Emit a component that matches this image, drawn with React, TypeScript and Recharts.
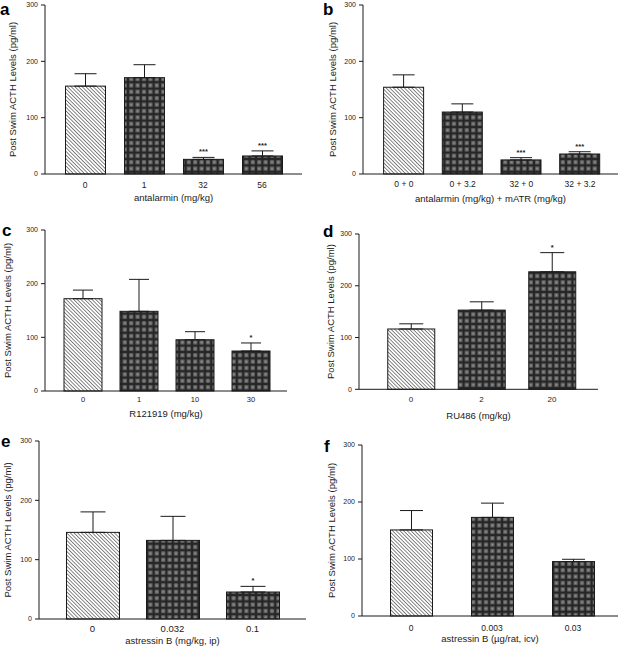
import React from "react";
import { BarChart, Bar, XAxis, YAxis, ErrorBar } from "recharts";

// panel a
const catsA = ["0", "1", "32", "56"];
const meanA = [156, 171, 26, 32];
const errA = [22, 23, 3.5, 9];
const starsA = ["", "", "***", "***"];

// panel b
const catsB = ["0 + 0", "0 + 3.2", "32 + 0", "32 + 3.2"];
const meanB = [154, 110, 25, 35.5];
const errB = [22, 14.5, 4, 4];
const starsB = ["", "", "***", "***"];

// panel c
const catsC = ["0", "1", "10", "30"];
const meanC = [172, 148.5, 95.5, 74.5];
const errC = [16, 59.5, 15, 15];
const starsC = ["", "", "", "*"];

// panel d
const catsD = ["0", "2", "20"];
const meanD = [116.5, 153, 227];
const errD = [10, 16, 37];
const starsD = ["", "", "*"];

// panel e
const catsE = ["0", "0.032", "0.1"];
const meanE = [146, 132.5, 45.5];
const errE = [34.5, 40.5, 9.5];
const starsE = ["", "", "*"];

// panel f
const catsF = ["0", "0.003", "0.03"];
const meanF = [151, 173, 95.5];
const errF = [34, 25, 4];
const starsF = ["", "", ""];

const yTicks = [0, 100, 200, 300];
const yLabel = "Post Swim ACTH Levels (pg/ml)";

const FONT = "'Liberation Sans', Arial, sans-serif";
const INK = "#1a1a1a";

const buildRows = (cats: string[], mean: number[], err: number[], stars: string[]) =>
  cats.map((c, i) => ({ cat: c, mean: mean[i], err: [0, err[i]], e: err[i], star: stars[i], idx: i }));

// layout in page pixels
const panels = [
  { letter: "a", lx: 0, ly: 15, rows: buildRows(catsA, meanA, errA, starsA), xLabel: "antalarmin (mg/kg)",
    colX: 0, pl: 45, pr: 302, pt: 5, pb: 174, padL: 10.5, padR: 10.5, barSize: 40, cap: 11, tickFs: 8.5, tickBase: 187.7, xLabBase: 201, yLabX: 12 },
  { letter: "b", lx: 323, ly: 15, rows: buildRows(catsB, meanB, errB, starsB), xLabel: "antalarmin (mg/kg) + mATR (mg/kg)",
    colX: 310, pl: 363, pr: 618, pt: 5, pb: 174, padL: 11.6, padR: 8.6, barSize: 40, cap: 11, tickFs: 8.5, tickBase: 187.3, xLabBase: 202, yLabX: 332 },
  { letter: "c", lx: 2, ly: 236, rows: buildRows(catsC, meanC, errC, starsC), xLabel: "R121919 (mg/kg)",
    colX: 0, pl: 45, pr: 287, pt: 230, pb: 391, padL: 10, padR: 8, barSize: 38, cap: 10, tickFs: 7.5, tickBase: 402.3, xLabBase: 416.7, yLabX: 7.5 },
  { letter: "d", lx: 323, ly: 237, rows: buildRows(catsD, meanD, errD, starsD), xLabel: "RU486 (mg/kg)",
    colX: 310, pl: 359, pr: 598, pt: 234, pb: 389.3, padL: 16.75, padR: 10.75, barSize: 47, cap: 12, tickFs: 8, tickBase: 401.7, xLabBase: 419, yLabX: 331 },
  { letter: "e", lx: 1, ly: 447, rows: buildRows(catsE, meanE, errE, starsE), xLabel: "astressin B (mg/kg, ip)",
    colX: 0, pl: 39, pr: 306, pt: 441, pb: 619, padL: 13.5, padR: 13.5, barSize: 53, cap: 12.5, tickFs: 9.5, tickBase: 632.3, xLabBase: 644, yLabX: 7 },
  { letter: "f", lx: 324, ly: 452, rows: buildRows(catsF, meanF, errF, starsF), xLabel: "astressin B (\u00b5g/rat, icv)",
    colX: 310, pl: 362, pr: 618, pt: 445, pb: 616, padL: 8.5, padR: 4.5, barSize: 42, cap: 11.5, tickFs: 8.5, tickBase: 630.7, xLabBase: 642, yLabX: 331 },
];

const TOP_M = 6;
const XAXIS_H = 40;

const BarShape = (props: any) => {
  const { x, y, width, height, payload } = props;
  const fill = payload.idx === 0 ? "url(#hatch)" : "url(#grid)";
  const k = payload.mean > 0 ? height / payload.mean : 0;
  const errTop = y - payload.e * k;
  return (
    <g>
      <rect x={x} y={y} width={width} height={height} fill={fill} stroke={INK} strokeWidth={1} />
      {payload.star ? (
        <text x={x + width / 2} y={errTop - 3} textAnchor="middle" fontSize={7.5} fontWeight="bold" fill={INK}>
          {payload.star}
        </text>
      ) : null}
    </g>
  );
};

function Panel({ p }: { p: (typeof panels)[number] }) {
  const boxTop = p.pt - TOP_M;
  const width = p.pr - p.colX + 3;
  const height = p.pb - boxTop + XAXIS_H;
  const yAxisW = p.pl - p.colX;
  const midY = (p.pt + p.pb) / 2 - boxTop;
  const tickMargin = p.tickBase - p.pb - 0.71 * p.tickFs;
  return (
    <div style={{ position: "absolute", left: p.colX, top: boxTop }}>
      <BarChart width={width} height={height} data={p.rows} margin={{ top: TOP_M, right: 3, left: 0, bottom: 0 }}>
        <XAxis
          dataKey="cat"
          height={XAXIS_H}
          padding={{ left: p.padL, right: p.padR }}
          tickLine={false}
          tickSize={0}
          tickMargin={tickMargin}
          axisLine={{ stroke: INK, strokeWidth: 1 }}
          tick={{ fontSize: p.tickFs, fill: INK }}
          interval={0}
          label={{
            value: p.xLabel,
            content: (lp: any) => {
              const vb = lp.viewBox || {};
              const cx = vb.x != null ? vb.x + vb.width / 2 : (p.pl + p.pr) / 2 - p.colX;
              return (
                <text x={cx} y={p.xLabBase - boxTop} textAnchor="middle" fontSize={9.5} fill={INK}>
                  {p.xLabel}
                </text>
              );
            },
          }}
        />
        <YAxis
          width={yAxisW}
          domain={[0, 300]}
          ticks={yTicks}
          tickSize={4}
          tickMargin={3}
          tickLine={{ stroke: INK }}
          axisLine={{ stroke: INK, strokeWidth: 1 }}
          tick={{ fontSize: 7, fill: INK }}
          label={{
            value: yLabel,
            content: () => {
              const lx = p.yLabX - p.colX;
              return (
                <text
                  x={lx}
                  y={midY}
                  textAnchor="middle"
                  dominantBaseline="central"
                  fontSize={9.5}
                  fill={INK}
                  transform={`rotate(-90, ${lx}, ${midY})`}
                >
                  {yLabel}
                </text>
              );
            },
          }}
        />
        <Bar dataKey="mean" barSize={p.barSize} shape={BarShape} isAnimationActive={false}>
          <ErrorBar dataKey="err" width={p.cap} stroke={INK} strokeWidth={1} direction="y" isAnimationActive={false} />
        </Bar>
      </BarChart>
    </div>
  );
}

export default function App() {
  return (
    <div
      style={{
        position: "absolute",
        left: 0,
        top: 0,
        width: 621,
        height: 648,
        overflow: "hidden",
        background: "#fff",
        fontFamily: FONT,
      }}
    >
      <svg width={0} height={0} style={{ position: "absolute" }}>
        <defs>
          <pattern id="hatch" patternUnits="userSpaceOnUse" width={2.6} height={2.6} patternTransform="rotate(-45)">
            <rect width={2.6} height={2.6} fill="#fff" />
            <line x1={1.3} y1={0} x2={1.3} y2={2.6} stroke="#666" strokeWidth={0.8} />
          </pattern>
          <pattern id="grid" patternUnits="userSpaceOnUse" width={6.4} height={6.4}>
            <rect width={6.4} height={6.4} fill="#262626" />
            <rect x={1.2} y={1.2} width={4} height={4} fill="#707070" />
            <rect x={2.6} y={2.6} width={1.2} height={1.2} fill="#9a9a9a" />
          </pattern>
        </defs>
      </svg>
      {panels.map((p) => (
        <Panel key={p.letter} p={p} />
      ))}
      <svg width={621} height={648} style={{ position: "absolute", left: 0, top: 0, pointerEvents: "none" }}>
        {panels.map((p) => (
          <text key={p.letter} x={p.lx} y={p.ly} fontSize={17} fontWeight="bold" fill="#000" fontFamily={FONT}>
            {p.letter}
          </text>
        ))}
      </svg>
    </div>
  );
}
